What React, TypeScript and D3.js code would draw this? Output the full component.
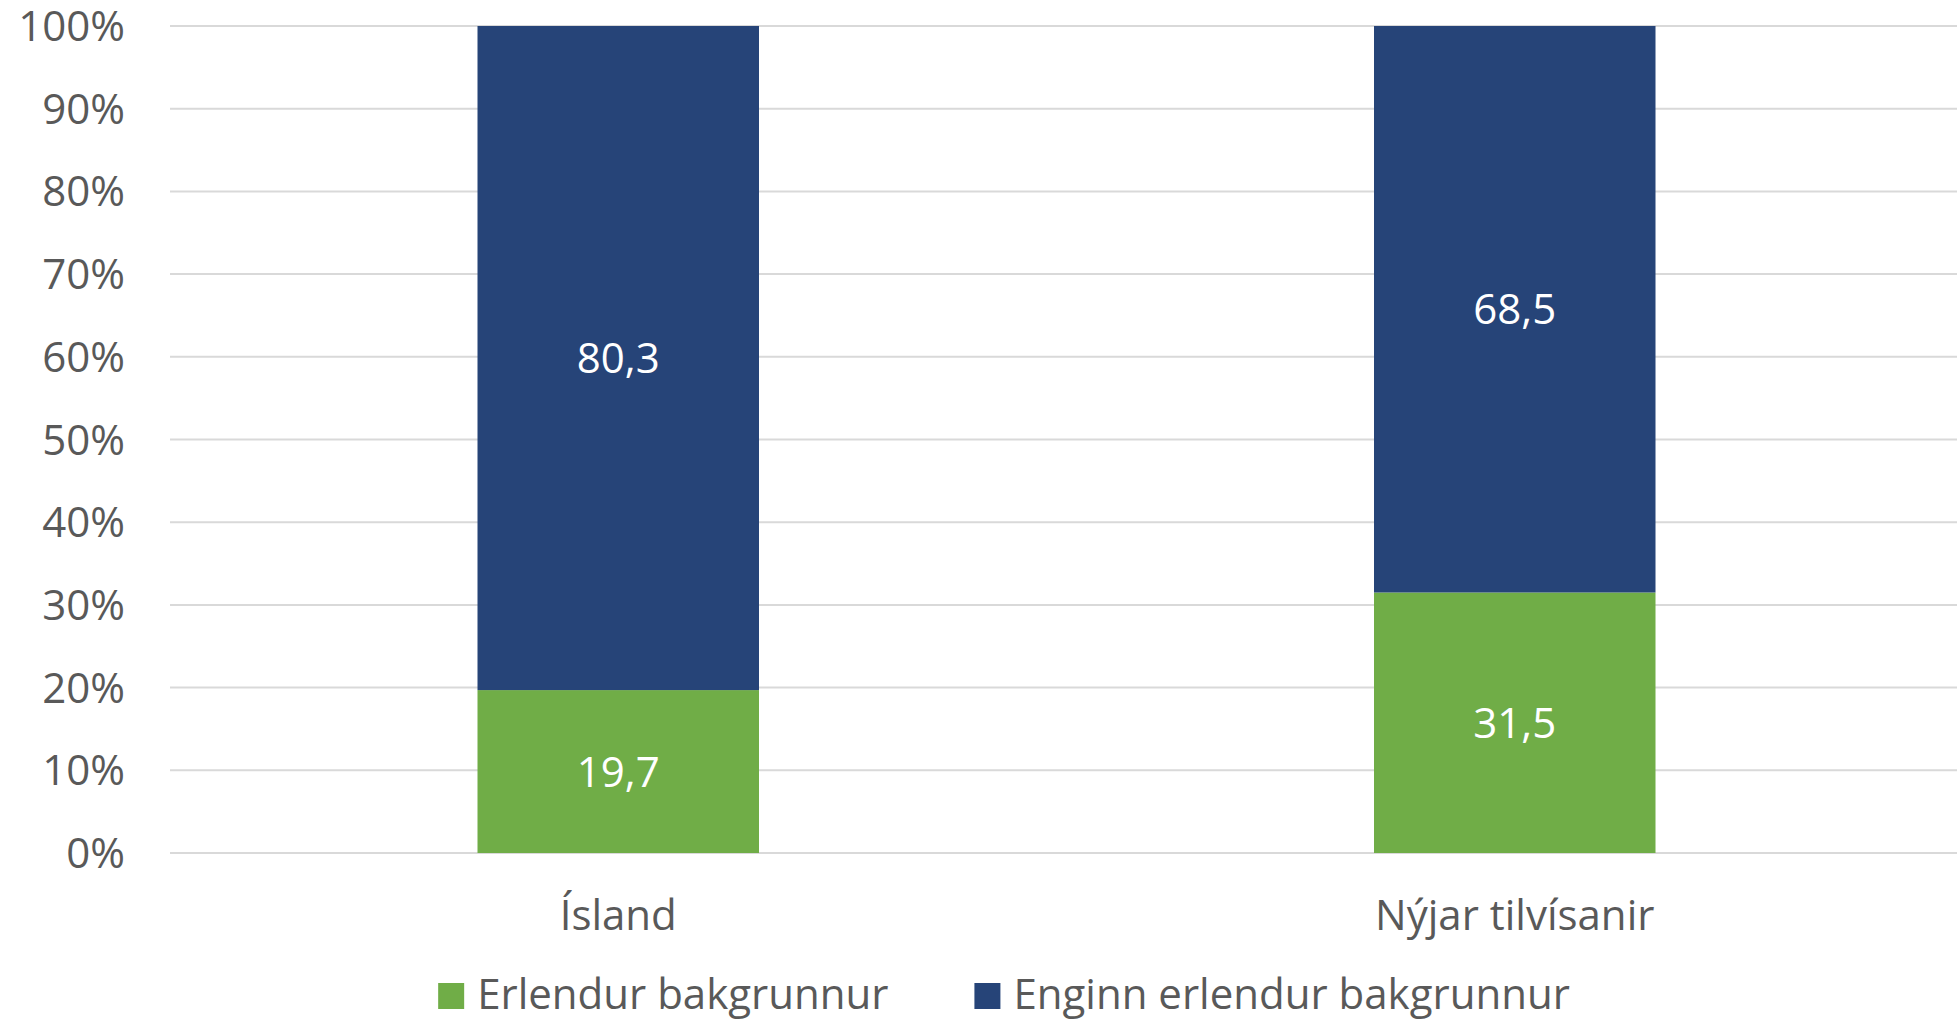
import React, { useEffect, useRef } from "react";
import * as d3 from "d3";

const categories = ["Ísland", "Nýjar tilvísanir"];
const seriesNames = ["Erlendur bakgrunnur", "Enginn erlendur bakgrunnur"];
const erlendur = [19.7, 31.5];
const enginn = [80.3, 68.5];
const yTicks = [0, 10, 20, 30, 40, 50, 60, 70, 80, 90, 100];
const colors = ["#70AD47", "#264478"];

const W = 1957;
const H = 1022;
const FONT = "'Open Sans', sans-serif";
const FS = 42;
const HALF_CAP = 15; // half the cap height, to centre digits on a y

const App = () => {
    const svgRef = useRef<SVGSVGElement>(null);

    useEffect(() => {
        const svg = d3.select(svgRef.current);
        svg.selectAll("*").remove();

        const left = 170, right = 1963, top = 26, bottom = 853;
        const x = d3.scaleBand().domain(categories).range([left, right]).paddingInner(0.686).paddingOuter(0.343);
        const y = d3.scaleLinear().domain([0, 100]).range([bottom, top]);

        // gridlines
        svg.append("g").selectAll("line").data(yTicks).join("line")
            .attr("x1", left).attr("x2", W)
            .attr("y1", d => y(d)).attr("y2", d => y(d))
            .attr("stroke", "#d9d9d9").attr("stroke-width", 2);

        // y labels
        svg.append("g").selectAll("text").data(yTicks).join("text")
            .attr("x", 125).attr("y", d => y(d) + HALF_CAP)
            .attr("text-anchor", "end")
            .attr("font-family", FONT).attr("font-size", FS).attr("fill", "#595959")
            .text(d => d + "%");

        const rows = categories.map((c, i) => ({ c, a: erlendur[i], b: enginn[i] }));
        const stack = d3.stack<any>().keys(["a", "b"])(rows);

        stack.forEach((layer, li) => {
            const g = svg.append("g");
            g.selectAll("rect").data(layer).join("rect")
                .attr("x", d => x(d.data.c)!)
                .attr("width", x.bandwidth())
                .attr("y", d => y(d[1]))
                .attr("height", d => y(d[0]) - y(d[1]))
                .attr("fill", colors[li]);
            g.selectAll("text").data(layer).join("text")
                .attr("x", d => x(d.data.c)! + x.bandwidth() / 2)
                .attr("y", d => y((d[0] + d[1]) / 2) + HALF_CAP)
                .attr("text-anchor", "middle")
                .attr("font-family", FONT).attr("font-size", FS).attr("fill", "#ffffff")
                .text(d => d3.format(".1f")(d[1] - d[0]).replace(".", ","));
        });

        // category labels
        svg.append("g").selectAll("text").data(categories).join("text")
            .attr("x", d => x(d)! + x.bandwidth() / 2).attr("y", 930)
            .attr("text-anchor", "middle")
            .attr("font-family", FONT).attr("font-size", FS).attr("fill", "#595959")
            .text(d => d);

        // legend
        const lg = svg.append("g");
        const sq = 26, gapText = 13, gapItem = 86;
        let cx = 0;
        seriesNames.forEach((name, i) => {
            const item = lg.append("g").attr("transform", `translate(${cx},0)`);
            item.append("rect").attr("x", 0).attr("y", -sq).attr("width", sq).attr("height", sq).attr("fill", colors[i]);
            const t = item.append("text").attr("x", sq + gapText).attr("y", 0)
                .attr("font-family", FONT).attr("font-size", FS).attr("fill", "#595959")
                .text(name);
            const tw = (t.node() as SVGTextElement).getComputedTextLength();
            cx += sq + gapText + tw + gapItem;
        });
        const total = cx - gapItem;
        lg.attr("transform", `translate(${1004 - total / 2},1009)`);
    }, []);

    return (
        <svg ref={svgRef} width={W} height={H}
            style={{ position: "absolute", left: 0, top: 0, background: "#fff" }} />
    );
};

export default App;
